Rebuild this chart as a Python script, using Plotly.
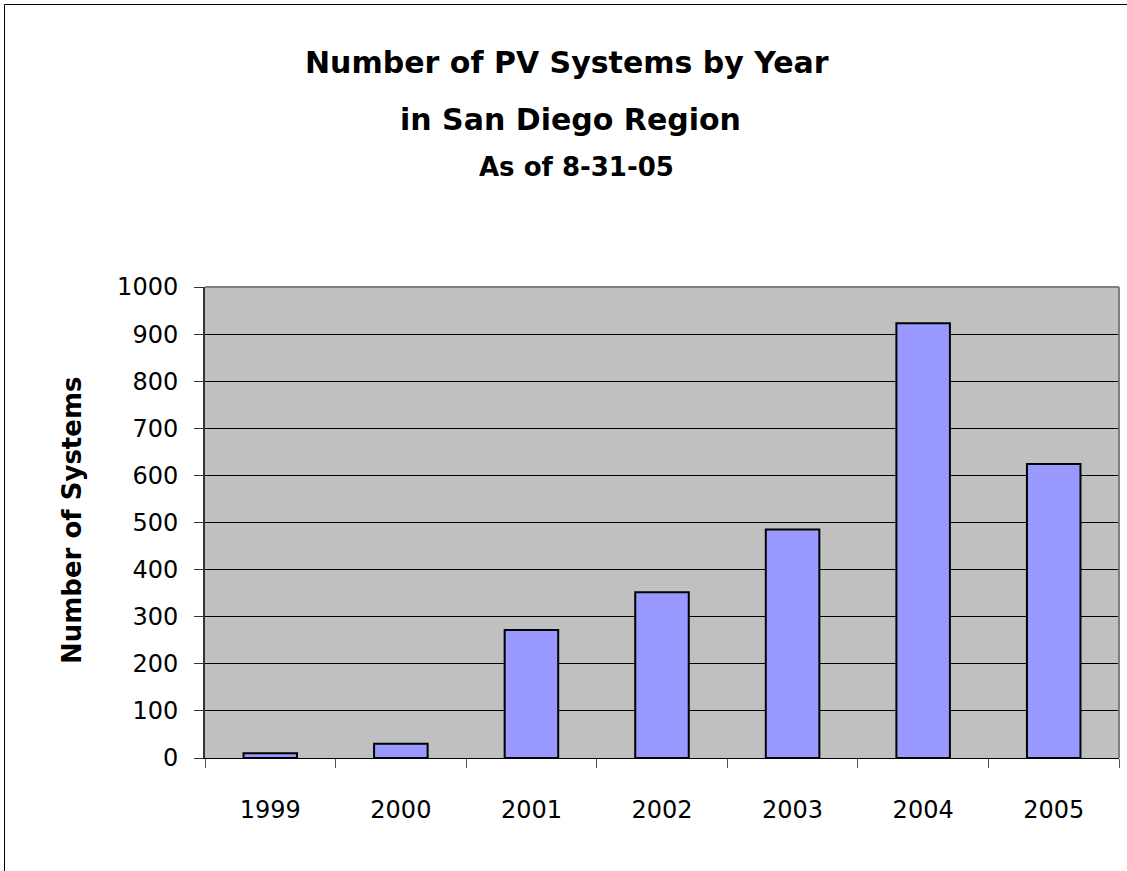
import plotly.graph_objects as go

# Installed PV systems per year in the San Diego region (through 8-31-05)
years = ["1999", "2000", "2001", "2002", "2003", "2004", "2005"]
systems = [10, 30, 272, 352, 485, 923, 624]
y_ticks = [0, 100, 200, 300, 400, 500, 600, 700, 800, 900, 1000]

FONT = "DejaVu Sans, sans-serif"

W, H = 1127, 871
L, R, T, B = 205, 8, 287, 113

fig = go.Figure(
    go.Bar(
        x=years,
        y=systems,
        marker=dict(color="#9999FF", line=dict(color="black", width=2)),
        width=0.41,
    )
)

plot_w = W - L - R
plot_h = H - T - B


def px_x(p):
    return (p - L) / plot_w


def px_y(p):
    return (H - B - p) / plot_h


fig.update_layout(
    width=W,
    height=H,
    margin=dict(l=L, r=R, t=T, b=B),
    paper_bgcolor="white",
    plot_bgcolor="#C0C0C0",
    showlegend=False,
    font=dict(family=FONT, color="black"),
    xaxis=dict(
        type="category",
        tickson="boundaries",
        ticks="outside",
        ticklen=9,
        tickwidth=1,
        tickcolor="#555555",
        showline=True,
        linecolor="black",
        linewidth=1,
        showgrid=False,
        tickfont=dict(size=24, family=FONT),
        ticklabelstandoff=30,
        fixedrange=True,
    ),
    yaxis=dict(
        range=[0, 1000],
        tickvals=y_ticks,
        ticks="outside",
        ticklen=9,
        tickwidth=1,
        tickcolor="#333333",
        showline=True,
        linecolor="#333333",
        linewidth=2,
        showgrid=True,
        gridcolor="black",
        gridwidth=1,
        zeroline=False,
        tickfont=dict(size=24, family=FONT),
        ticklabelstandoff=11,
        fixedrange=True,
    ),
    shapes=[
        # plot-area top and right edges
        dict(type="line", xref="paper", yref="paper", x0=0, x1=1, y0=1, y1=1,
             line=dict(color="#808080", width=2)),
        dict(type="line", xref="paper", yref="paper", x0=1, x1=1, y0=0, y1=1,
             line=dict(color="#808080", width=2)),
        # chart frame
        dict(type="rect", xref="paper", yref="paper",
             x0=px_x(4.5), x1=px_x(1140), y0=px_y(900), y1=px_y(4.5),
             line=dict(color="black", width=1), layer="below"),
    ],
    annotations=[
        dict(text="<b>Number of PV Systems by Year</b>", xref="paper", yref="paper",
             x=px_x(567), y=px_y(62), showarrow=False, font=dict(size=30, family=FONT),
             xanchor="center", yanchor="middle"),
        dict(text="<b>in San Diego Region</b>", xref="paper", yref="paper",
             x=px_x(570), y=px_y(119), showarrow=False, font=dict(size=30, family=FONT),
             xanchor="center", yanchor="middle"),
        dict(text="<b>As of 8-31-05</b>", xref="paper", yref="paper",
             x=px_x(576), y=px_y(167), showarrow=False, font=dict(size=26, family=FONT),
             xanchor="center", yanchor="middle"),
        dict(text="<b>Number of Systems</b>", xref="paper", yref="paper",
             x=px_x(72), y=px_y(520), showarrow=False, textangle=-90,
             font=dict(size=26, family=FONT), xanchor="center", yanchor="middle"),
    ],
)

fig.write_html("out.html")
